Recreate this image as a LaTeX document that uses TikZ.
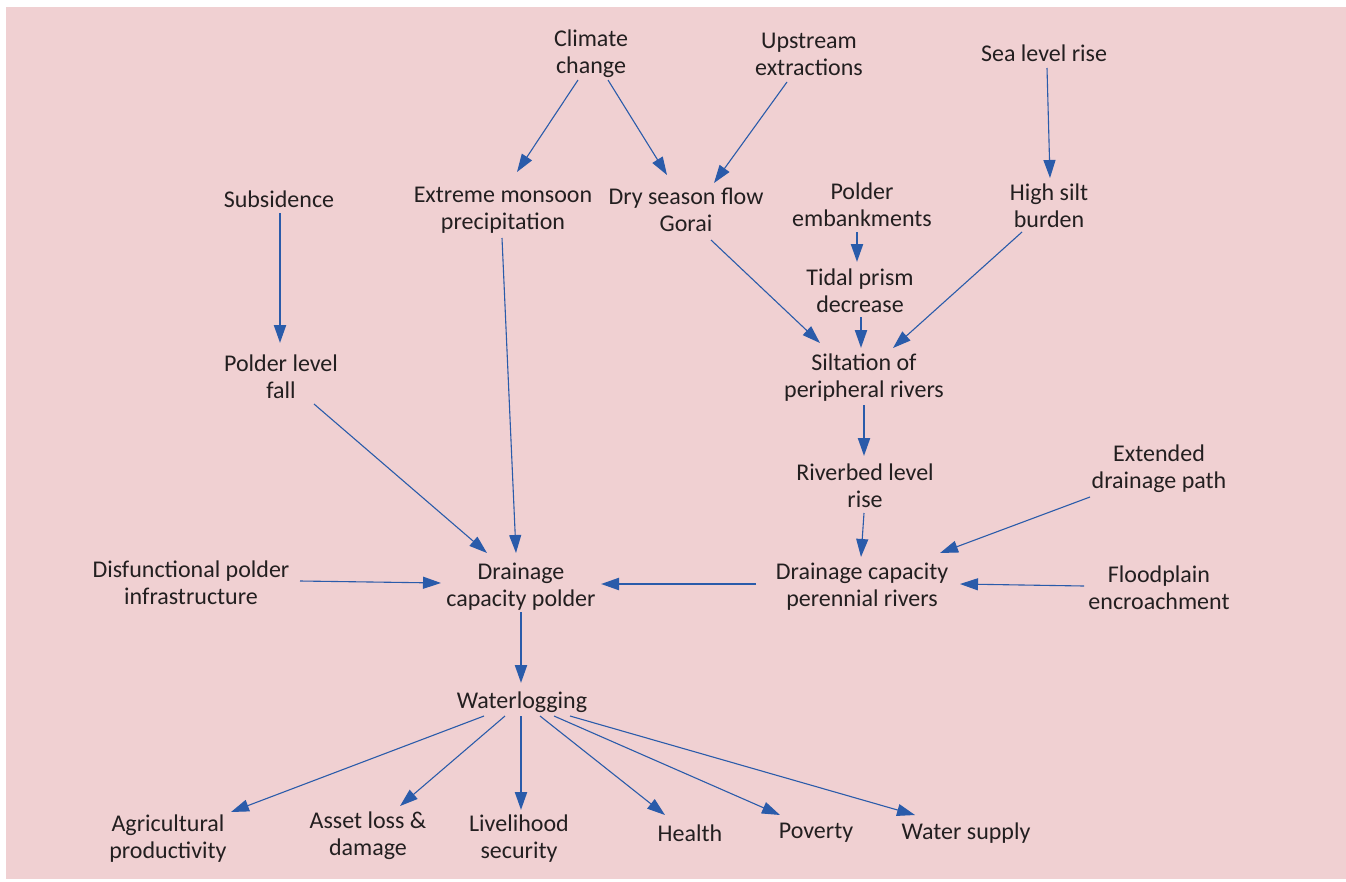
\documentclass[tikz,border=0pt]{standalone}
\usepackage{fontspec}
\setmainfont{Carlito}
\usetikzlibrary{arrows.meta,calc}
\definecolor{bgpink}{RGB}{240,208,210}
\definecolor{linkblue}{RGB}{42,91,170}
\definecolor{inkgray}{RGB}{35,31,32}
\tikzset{
  lbl/.style={align=center,inner sep=0pt,text=inkgray,
    font=\fontsize{24}{27}\selectfont},
  link/.style={draw=linkblue,line width=1.1pt,
    -{Triangle[length=18pt,width=12pt]}},
  mainlink/.style={link,line width=2.2pt}
}
\begin{document}
\begin{tikzpicture}[x=1pt,y=-1pt]
\useasboundingbox (0,0) rectangle (1346,881);
\fill[bgpink] (6,7) rectangle (1346,879);

% drivers
\node[lbl] (cc)  at (591,54)  {Climate\\change};
\node[lbl] (ue)  at (809,54)  {Upstream\\extractions};
\node[lbl] (slr) at (1044,53) {Sea level rise};
\node[lbl] (sub) at (279,199) {Subsidence};
\node[lbl] (emp) at (503,210) {Extreme monsoon\\precipitation};
\node[lbl] (dsf) at (686,210) {Dry season flow\\Gorai};
\node[lbl] (pe)  at (862,205) {Polder\\embankments};
\node[lbl] (hsb) at (1049,206) {High silt\\burden};
\node[lbl] (tpd) at (860,291) {Tidal prism\\decrease};
\node[lbl] (plf) at (281,377) {Polder level\\fall};
\node[lbl] (spr) at (864,378) {Siltation of\\peripheral rivers};
\node[lbl] (rlr) at (865,486) {Riverbed level\\rise};
\node[lbl] (edp) at (1159,469) {Extended\\drainage path};
\node[lbl] (dpi) at (191,583) {Disfunctional polder\\infrastructure};
\node[lbl] (dcp) at (521,587) {Drainage\\capacity polder};
\node[lbl] (dcr) at (862,587) {Drainage capacity\\perennial rivers};
\node[lbl] (fe)  at (1159,588) {Floodplain\\encroachment};
\node[lbl] (wl)  at (522,702) {Waterlogging};

% impacts
\node[lbl] (ap) at (168,839) {Agricultural\\productivity};
\node[lbl] (al) at (368,836) {Asset loss \&\\damage};
\node[lbl] (ls) at (519,839) {Livelihood\\security};
\node[lbl] (he) at (690,833) {Health};
\node[lbl] (po) at (816,833) {Poverty};
\node[lbl] (ws) at (966,833) {Water supply};

% causal links
\draw[link] ($(cc)+(-13,26)$) -- ($(emp)+(14,-38)$);
\draw[link] ($(cc)+(17,26)$) -- ($(dsf)+(-19,-35)$);
\draw[link] ($(ue)+(-22,28)$) -- ($(dsf)+(28,-27)$);
\draw[link] ($(slr)+(3,15)$) -- ($(hsb)+(1,-28)$);
\draw[mainlink] ($(sub)+(1,14)$) -- ($(plf)+(-1,-34)$);
\draw[link] ($(emp)+(-1,28)$) -- ($(dcp)+(-5,-34)$);
\draw[link] ($(dsf)+(25,30)$) -- ($(spr)+(-44,-35)$);
\draw[mainlink] ($(pe)+(-5,27)$) -- ($(tpd)+(-3,-29)$);
\draw[mainlink] ($(tpd)+(1,26)$) -- ($(spr)+(-3,-30)$);
\draw[link] ($(hsb)+(-27,26)$) -- ($(spr)+(29,-30)$);
\draw[link] ($(plf)+(33,27)$) -- ($(dcp)+(-34,-34)$);
\draw[mainlink] ($(spr)+(0,27)$) -- ($(rlr)+(-1,-30)$);
\draw[link] ($(rlr)+(-1,27)$) -- ($(dcr)+(-1,-30)$);
\draw[link] ($(edp)+(-69,28)$) -- ($(dcr)+(78,-34)$);
\draw[link] ($(fe)+(-75,-2)$) -- ($(dcr)+(98,-3)$);
\draw[mainlink] ($(dcr)+(-106,-3)$) -- ($(dcp)+(80,-3)$);
\draw[link] ($(dpi)+(109,-2)$) -- ($(dcp)+(-80,-4)$);
\draw[mainlink] ($(dcp)+(0,25)$) -- ($(wl)+(-1,-19)$);

% consequences of waterlogging
\draw[link] ($(wl)+(-38,14)$) -- ($(ap)+(63,-27)$);
\draw[link] ($(wl)+(-17,14)$) -- ($(al)+(32,-30)$);
\draw[mainlink] ($(wl)+(-1,14)$) -- ($(ls)+(2,-29)$);
\draw[link] ($(wl)+(18,14)$) -- ($(he)+(-25,-18)$);
\draw[link] ($(wl)+(32,14)$) -- ($(po)+(-36,-18)$);
\draw[link] ($(wl)+(48,14)$) -- ($(ws)+(-51,-18)$);
\end{tikzpicture}
\end{document}
